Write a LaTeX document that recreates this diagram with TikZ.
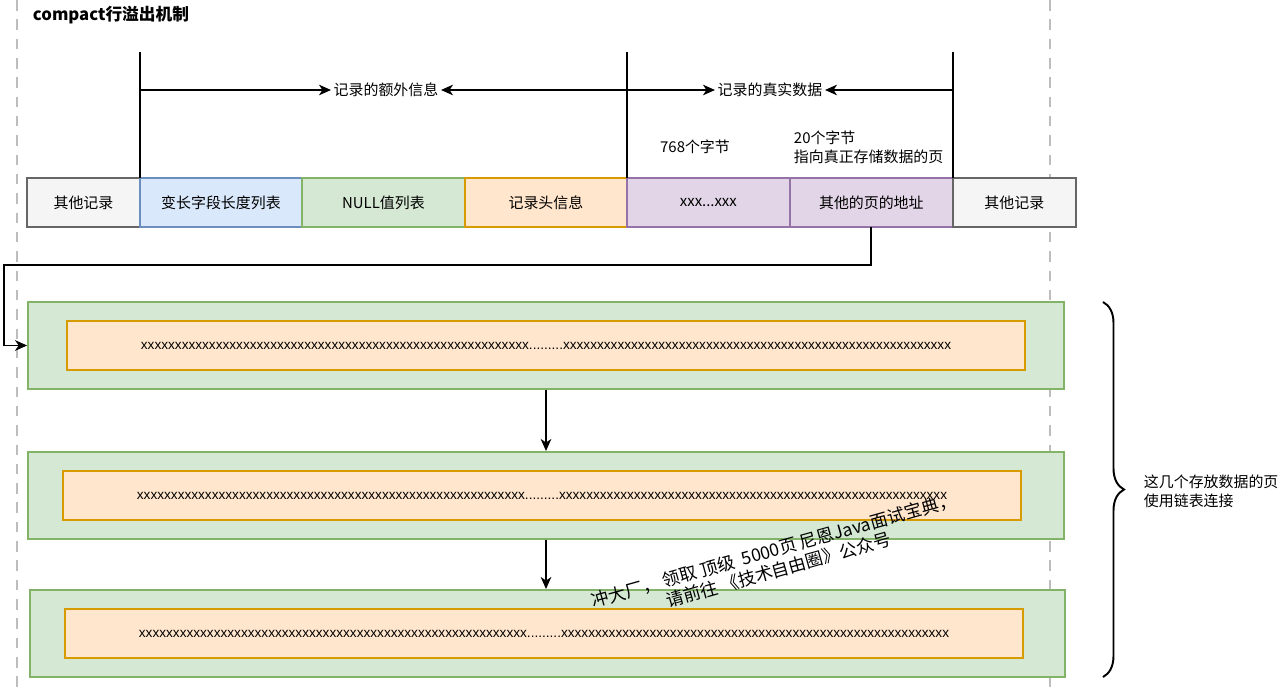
\documentclass[tikz,border=0pt]{standalone}
\usepackage{fontspec}
\setmainfont{Noto Sans CJK SC}
\newfontfamily\latinfont{Liberation Sans}
\usepackage{tikz}
\usetikzlibrary{arrows.meta}
\usetikzlibrary{positioning}
\usetikzlibrary{calc}
\usetikzlibrary{decorations.pathreplacing}
\usepackage{color}

\definecolor{othfill}{HTML}{F5F5F5}
\definecolor{othline}{HTML}{666666}
\definecolor{bluefill}{HTML}{DAE8FC}
\definecolor{blueline}{HTML}{6C8EBF}
\definecolor{greenfill}{HTML}{D5E8D4}
\definecolor{greenline}{HTML}{82B366}
\definecolor{orangefill}{HTML}{FFE6CC}
\definecolor{orangeline}{HTML}{D79B00}
\definecolor{purplefill}{HTML}{E1D5E7}
\definecolor{purpleline}{HTML}{9673A6}
\definecolor{guide}{HTML}{BDBDBD}

\newcommand{\xten}{xxxxxxxxxx}
\newcommand{\xline}{{\latinfont\fontsize{7.75}{9}\selectfont\xten\xten\xten\xten\xten xxxxxxx.........\xten\xten\xten\xten\xten xxxxxxx}}

\begin{document}
\begin{tikzpicture}[x=0.02cm,y=-0.02cm,>={Stealth[length=2.4mm,width=2.1mm,inset=0.7mm]},line width=1.1pt,
  field/.style={draw,line width=1.1pt,minimum height=0.98cm,inner sep=0pt,outer sep=0pt,
                font=\fontsize{8.5}{10}\selectfont},
  page/.style={draw=greenline,fill=greenfill,line width=1.1pt,minimum width=20.72cm,minimum height=1.74cm},
  pagedata/.style={draw=orangeline,fill=orangefill,line width=1.1pt,minimum width=19.16cm,minimum height=0.98cm,inner sep=0pt},
  label/.style={inner sep=1pt,font=\fontsize{8.5}{10}\selectfont},
  note/.style={align=left,inner sep=0pt,font=\fontsize{8.5}{11}\selectfont}]

  \useasboundingbox (0,0) rectangle (1281,689);

  % guides
  \draw[guide,dashed,dash pattern=on 6pt off 5pt,line width=0.8pt] (17,0) -- (17,689);
  \draw[guide,dashed,dash pattern=on 6pt off 5pt,line width=0.8pt] (1050,0) -- (1050,689);

  \node[anchor=west,inner sep=0pt,font=\fontsize{9.5}{11}\selectfont\bfseries] (title) at (32,15) {compact行溢出机制};

  % record row
  \node[field,fill=othfill,draw=othline,minimum width=2.26cm,anchor=west] (other1) at (27,202.5) {其他记录};
  \node[field,fill=bluefill,draw=blueline,minimum width=3.24cm,right=0pt of other1] (varlen) {变长字段长度列表};
  \node[field,fill=greenfill,draw=greenline,minimum width=3.26cm,right=0pt of varlen] (nulls) {NULL值列表};
  \node[field,fill=orangefill,draw=orangeline,minimum width=3.24cm,right=0pt of nulls] (header) {记录头信息};
  \node[field,fill=purplefill,draw=purpleline,minimum width=3.26cm,right=0pt of header] (data) {xxx...xxx};
  \node[field,fill=purplefill,draw=purpleline,minimum width=3.26cm,right=0pt of data] (addr) {其他的页的地址};
  \node[field,fill=othfill,draw=othline,minimum width=2.46cm,right=0pt of addr] (other2) {其他记录};

  % section markers
  \draw (varlen.north west) -- ++(0,-126) coordinate (mark1);
  \draw (data.north west) -- ++(0,-126) coordinate (mark2);
  \draw (addr.north east) -- ++(0,-126) coordinate (mark3);
  \coordinate (m1) at ($(mark1)+(0,38)$);
  \coordinate (m2) at ($(mark2)+(0,38)$);
  \coordinate (m3) at ($(mark3)+(0,38)$);

  \node[label] (extra) at (386,90) {记录的额外信息};
  \node[label] (real) at (770,90) {记录的真实数据};
  \draw[->] (m1) -- (extra.west);
  \draw[->] (m2) -- (extra.east);
  \draw[->] (m2) -- (real.west);
  \draw[->] (m3) -- (real.east);

  \node[note] (size1) at (695,147) {768个字节};
  \node[note,anchor=north west] (size2) at (793,130) {20个字节\\指向真正存储数据的页};

  % overflow pages
  \node[page] (page1) at (546,345.5) {};
  \node[pagedata] (chunk1) at (546,345.5) {\xline};
  \node[page] (page2) at (546,495.5) {};
  \node[pagedata] (chunk2) at (542,495.5) {\xline};
  \node[page] (page3) at (547.5,633.5) {};
  \node[pagedata] (chunk3) at (544,633.5) {\xline};

  \coordinate (turn) at ($(page1.west)+(-23,0)$);
  \draw[->] (addr.south) -- ++(0,38) -| (turn) -- (page1.west);
  \draw[->] (page1.south) -- (page1.south |- page2.north);
  \draw[->] (page2.south) -- (page2.south |- page3.north);

  % linked pages
  \coordinate (bracetop) at (1103,302);
  \coordinate (bracebot) at (1103,677);
  \draw[decorate,decoration={brace,amplitude=0.42cm}] (bracetop) -- (bracebot);
  \node[note,anchor=west] (linked) at (1143,491) {这几个存放数据的页\\使用链表连接};

  \node[rotate=15.7,align=center,inner sep=0pt,font=\fontsize{10}{11.5}\selectfont] (promo) at (776,560)
    {冲大厂， 领取 顶级 \ 5000页 尼恩Java面试宝典，\\请前往 《技术自由圈》公众号};
\end{tikzpicture}
\end{document}
